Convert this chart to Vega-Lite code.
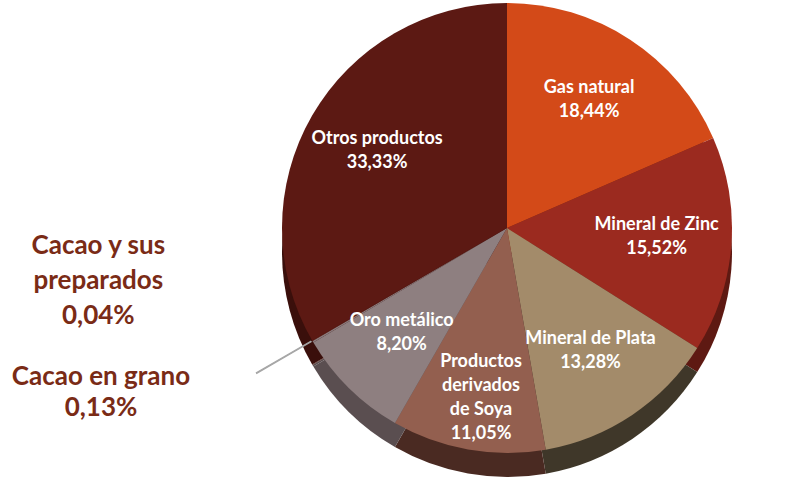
{
  "$schema": "https://vega.github.io/schema/vega-lite/v6.json",
  "width": 560,
  "height": 450,
  "autosize": {"type": "none"},
  "padding": {"left": 227, "top": 3, "right": 6, "bottom": 25},
  "background": "white",
  "config": {"view": {"stroke": null}, "font": "Lato"},
  "data": {
    "values": [
      {"orden": 1, "nombre": "Gas natural", "valor": 18.44, "label": "Gas natural\n18,44%", "externa": ""},
      {"orden": 2, "nombre": "Mineral de Zinc", "valor": 15.52, "label": "Mineral de Zinc\n15,52%", "externa": ""},
      {"orden": 3, "nombre": "Mineral de Plata", "valor": 13.28, "label": "Mineral de Plata\n13,28%", "externa": ""},
      {"orden": 4, "nombre": "Productos derivados de Soya", "valor": 11.05, "label": "Productos\nderivados\nde Soya\n11,05%", "externa": ""},
      {"orden": 5, "nombre": "Oro metálico", "valor": 8.20, "label": "Oro metálico\n8,20%", "externa": ""},
      {"orden": 6, "nombre": "Cacao en grano", "valor": 0.13, "label": "", "externa": "Cacao en grano\n0,13%"},
      {"orden": 7, "nombre": "Cacao y sus preparados", "valor": 0.04, "label": "", "externa": "Cacao y sus\npreparados\n0,04%"},
      {"orden": 8, "nombre": "Otros productos", "valor": 33.33, "label": "Otros productos\n33,33%", "externa": ""}
    ]
  },
  "resolve": {"scale": {"color": "independent"}},
  "layer": [
    {
      "mark": {"type": "arc", "radius": 225, "y": {"expr": "height/2 + 24"}},
      "encoding": {
        "theta": {"field": "valor", "type": "quantitative", "stack": true},
        "order": {"field": "orden", "type": "quantitative"},
        "color": {
          "field": "nombre", "type": "nominal", "legend": null,
          "scale": {
            "domain": ["Gas natural", "Mineral de Zinc", "Mineral de Plata", "Productos derivados de Soya", "Oro metálico", "Cacao en grano", "Cacao y sus preparados", "Otros productos"],
            "range": ["#8a300f", "#5e1912", "#3f3729", "#4a2a22", "#5a4e50", "#5a4e50", "#4a1a14", "#3a0f0b"]
          }
        }
      }
    },
    {
      "mark": {"type": "arc", "radius": 225},
      "encoding": {
        "theta": {"field": "valor", "type": "quantitative", "stack": true},
        "order": {"field": "orden", "type": "quantitative"},
        "color": {
          "field": "nombre", "type": "nominal", "legend": null,
          "scale": {
            "domain": ["Gas natural", "Mineral de Zinc", "Mineral de Plata", "Productos derivados de Soya", "Oro metálico", "Cacao en grano", "Cacao y sus preparados", "Otros productos"],
            "range": ["#d34a18", "#9b2a1f", "#a38b6a", "#935f4f", "#8e7f80", "#8a7a7c", "#6e2a20", "#5c1913"]
          }
        }
      }
    },
    {
      "transform": [
        {"stack": "valor", "groupby": [], "sort": [{"field": "orden", "order": "ascending"}], "as": ["ini", "fin"]},
        {"filter": "datum.externa != ''"}
      ],
      "mark": {"type": "arc", "radius": 290, "radius2": 226, "stroke": "#a6a6a6", "strokeWidth": 1.2, "fill": null, "filled": false},
      "encoding": {
        "theta": {"field": "fin", "type": "quantitative"},
        "theta2": {"field": "fin"}
      }
    },
    {
      "mark": {"type": "text", "radius": 150, "dy": -14, "fontSize": 18, "fontWeight": "bold", "color": "white", "lineBreak": "\n", "lineHeight": 24},
      "encoding": {
        "theta": {"field": "valor", "type": "quantitative", "stack": true},
        "order": {"field": "orden", "type": "quantitative"},
        "text": {"field": "label"}
      }
    },
    {
      "mark": {"type": "text", "radius": 240, "dx": -199, "dy": 28, "fontSize": 26, "fontWeight": "bold", "color": "#7a2b16", "lineBreak": "\n", "lineHeight": 31},
      "encoding": {
        "theta": {"field": "valor", "type": "quantitative", "stack": true},
        "order": {"field": "orden", "type": "quantitative"},
        "text": {"condition": {"test": "datum.nombre == 'Cacao en grano'", "field": "externa"}, "value": ""}
      }
    },
    {
      "mark": {"type": "text", "radius": 240, "dx": -201, "dy": -102, "fontSize": 26, "fontWeight": "bold", "color": "#7a2b16", "lineBreak": "\n", "lineHeight": 35},
      "encoding": {
        "theta": {"field": "valor", "type": "quantitative", "stack": true},
        "order": {"field": "orden", "type": "quantitative"},
        "text": {"condition": {"test": "datum.nombre == 'Cacao y sus preparados'", "field": "externa"}, "value": ""}
      }
    }
  ]
}
